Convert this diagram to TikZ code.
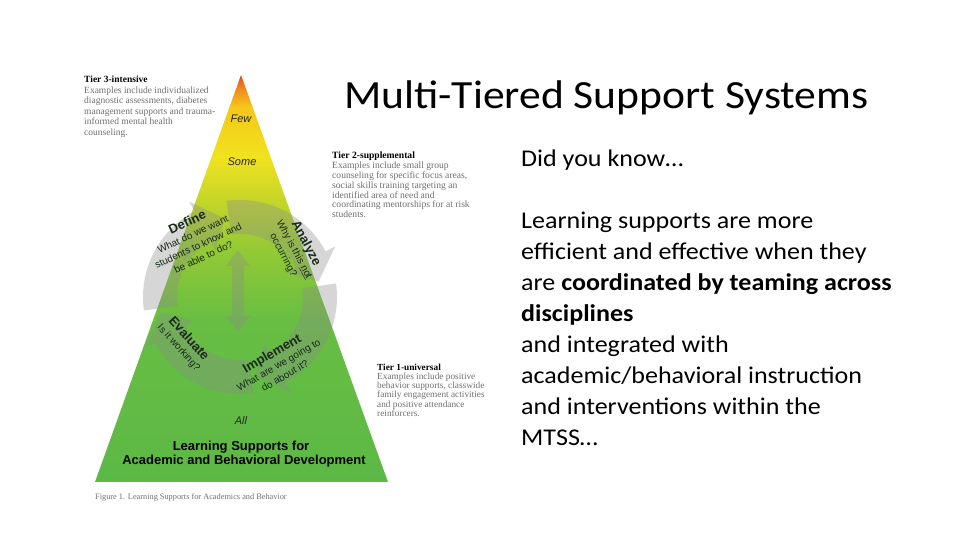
\documentclass[tikz,border=0pt]{standalone}
\usepackage{fontspec}
\setmainfont{Carlito}
\newfontfamily\slidef[FakeStretch=1.085]{Carlito}
\newfontfamily\titlef[FakeStretch=1.09]{Carlito}
\newfontfamily\arialf{Liberation Sans}
\newfontfamily\serf{Liberation Serif}
\definecolor{gA}{RGB}{92,184,70}
\definecolor{gB}{RGB}{104,190,66}
\definecolor{gC}{RGB}{150,202,52}
\definecolor{gD}{RGB}{200,215,40}
\definecolor{gE}{RGB}{240,226,30}
\definecolor{gF}{RGB}{246,200,26}
\definecolor{gG}{RGB}{240,132,32}
\definecolor{gH}{RGB}{226,72,32}
\definecolor{cyctext}{RGB}{24,44,24}
\definecolor{tiergray}{RGB}{112,112,112}
\pgfdeclareverticalshading{tri}{100bp}{color(0bp)=(gA); color(25bp)=(gA); color(45bp)=(gB); color(54bp)=(gC); color(60bp)=(gD); color(65bp)=(gE); color(71bp)=(gF); color(73.5bp)=(gG); color(75bp)=(gH); color(100bp)=(gH)}
\tikzset{
  cyc/.style={fill=black!45, fill opacity=0.35},
  cyclabel/.style={font=\arialf\fontsize{10}{12.5}\selectfont, text=cyctext, align=center, inner sep=0},
  tiertext/.style={font=\serf\fontsize{9.5}{10.5}\selectfont, text=tiergray, align=left, anchor=north west, inner sep=0},
  tierlabel/.style={font=\arialf\itshape\fontsize{11}{12}\selectfont, text=black!85, inner sep=0},
  bodyline/.style={font=\slidef\fontsize{24}{28}\selectfont, anchor=base west, inner sep=0},
}
\newcommand\cycarr[2]{%
  \fill[cyc] (#1:97) arc[start angle=#1, end angle=#2, radius=97] -- (#2:108) -- ({#2-17}:80) -- (#2:52) -- (#2:63) arc[start angle=#2, end angle=#1, radius=63] -- cycle;}
\begin{document}
\begin{tikzpicture}[x=1pt,y=1pt]
\useasboundingbox (0,0) rectangle (960,540);
\fill[white] (0,0) rectangle (960,540);
% pyramid
\shade[shading=tri] (241,465) -- (388,58) -- (95,58) -- cycle;
% cycle arrows
\begin{scope}[shift={(240,243)}]
  \cycarr{188}{118}
  \cycarr{98}{28}
  \cycarr{8}{-62}
  \cycarr{-82}{-152}
\end{scope}
\fill[cyc] (238,290) -- (250,274) -- (244,274) -- (244,224) -- (250,224) -- (238,208) -- (226,224) -- (232,224) -- (232,274) -- (226,274) -- cycle;
% pyramid labels
\node[tierlabel] (few) at (241,421) {Few};
\node[tierlabel] (some) at (242,378) {Some};
\node[tierlabel] (all) at (241,119) {All};
\node[font=\arialf\bfseries\fontsize{13}{14}\selectfont, inner sep=0] (ls1) at (241,93) {Learning Supports for};
\node[font=\arialf\bfseries\fontsize{13}{14}\selectfont, inner sep=0] (ls2) at (244,79) {Academic and Behavioral Development};
% cycle labels
\node[cyclabel, rotate=25] (define) at (195,301) {{\bfseries\fontsize{13}{14}\selectfont Define}\\What do we want\\students to know and\\be able to do?};
\node[cyclabel, rotate=-62] (analyze) at (295,291) {{\bfseries\fontsize{13}{14}\selectfont Analyze}\\Why is this \underline{not}\\occurring?};
\node[cyclabel, rotate=-48] (evaluate) at (184,197) {{\bfseries\fontsize{13}{14}\selectfont Evaluate}\\Is it working?};
\node[cyclabel, rotate=30] (implement) at (278,176) {{\bfseries\fontsize{13}{14}\selectfont Implement}\\What are we going to\\do about it?};
% tier descriptions
\node[tiertext] (t3) at (84,464) {\textcolor{black}{\bfseries Tier 3-intensive}\\Examples include individualized\\diagnostic assessments, diabetes\\management supports and trauma-\\informed mental health\\counseling.};
\node[tiertext, font=\serf\fontsize{9.6}{9.8}\selectfont] (t2) at (332,388) {\textcolor{black}{\bfseries Tier 2-supplemental}\\Examples include small group\\counseling for specific focus areas,\\social skills training targeting an\\identified area of need and\\coordinating mentorships for at risk\\students.};
\node[tiertext, font=\serf\fontsize{9.3}{9.1}\selectfont] (t1) at (377,176) {\textcolor{black}{\bfseries Tier 1-universal}\\Examples include positive\\behavior supports, classwide\\family engagement activities\\and positive attendance\\reinforcers.};
\node[font=\serf\fontsize{8.3}{9}\selectfont, text=tiergray, anchor=west, inner sep=0] (cap) at (95,43) {Figure 1. Learning Supports for Academics and Behavior};
% title and body
\node[font=\titlef\fontsize{40}{44}\selectfont, anchor=base west, inner sep=0] (title) at (344,431) {Multi-Tiered Support Systems};
\node[bodyline] (l1) at (521,373) {Did you know…};
\node[bodyline] (l2) at (521,311) {Learning supports are more};
\node[bodyline] (l3) at (521,280) {efficient and effective when they};
\node[bodyline] (l4) at (521,249) {are \textbf{coordinated by teaming across}};
\node[bodyline] (l5) at (521,218) {\textbf{disciplines}};
\node[bodyline] (l6) at (521,187) {and integrated with};
\node[bodyline] (l7) at (521,156) {academic/behavioral instruction};
\node[bodyline] (l8) at (521,125) {and interventions within the};
\node[bodyline] (l9) at (521,94) {MTSS…};
\end{tikzpicture}
\end{document}
